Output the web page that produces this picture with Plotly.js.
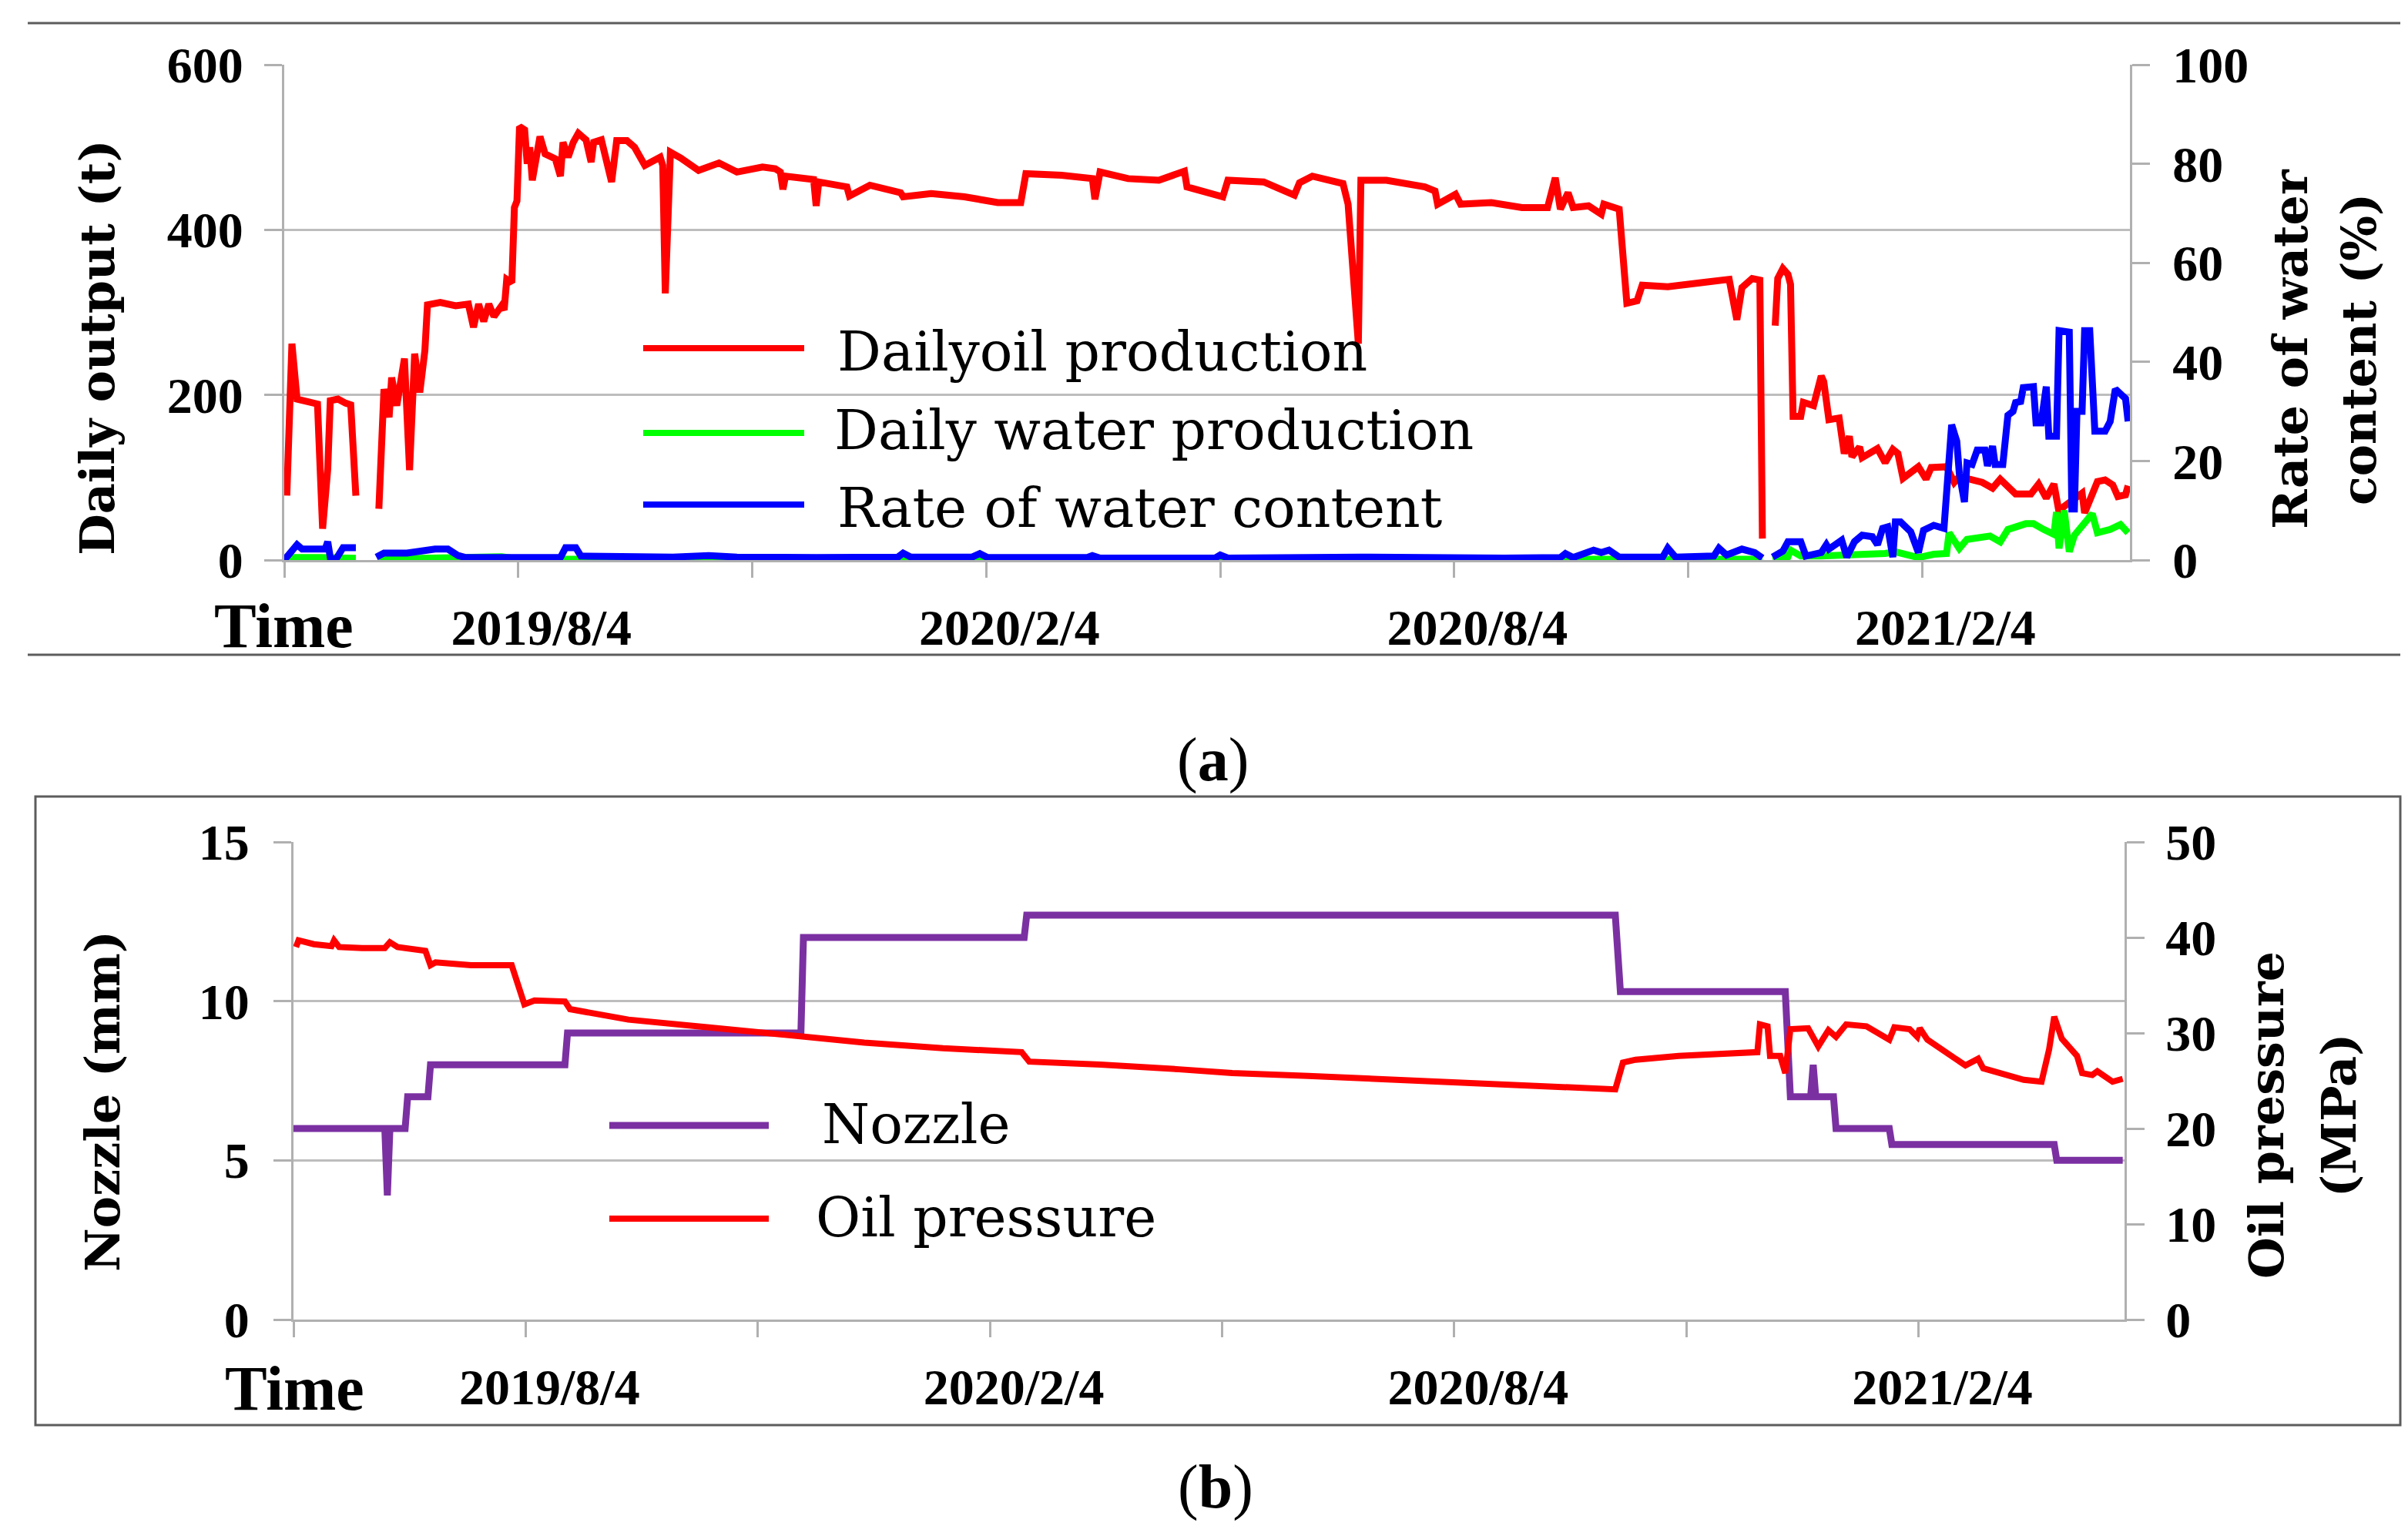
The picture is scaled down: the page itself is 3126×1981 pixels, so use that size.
<!DOCTYPE html>
<html>
<head>
<meta charset="utf-8">
<script src="https://cdn.plot.ly/plotly-3.0.1.min.js"></script>
<style>html,body{margin:0;padding:0;background:#fff}</style>
</head>
<body>
<div id="chart" style="width:3126px;height:1981px"></div>
<script>
// ---------------- DATA ----------------
const tickDates = ['2019-04-26','2019-07-26 12:00','2019-10-26','2020-01-25 12:00','2020-04-26','2020-07-26 12:00','2020-10-26','2021-01-25 12:00'];
const tickLabels = ['', '2019/8/4', '', '2020/2/4', '', '2020/8/4', '', '2021/2/4'];
const xRange = ['2019-04-26', '2021-04-16 17:00'];

const oilDates = ['2019-04-27','2019-04-29','2019-05-01','2019-05-05','2019-05-09','2019-05-11','2019-05-13','2019-05-14','2019-05-17','2019-05-20','2019-05-22','2019-05-24','2019-05-28','2019-06-02','2019-06-04','2019-06-06','2019-06-07','2019-06-09','2019-06-12','2019-06-14','2019-06-16','2019-06-18','2019-06-20','2019-06-21','2019-06-26','2019-07-02','2019-07-07','2019-07-09','2019-07-11','2019-07-13','2019-07-15','2019-07-17','2019-07-20','2019-07-21','2019-07-22','2019-07-24','2019-07-25','2019-07-26','2019-07-27','2019-07-29','2019-07-30','2019-07-31','2019-08-01','2019-08-04','2019-08-06','2019-08-10','2019-08-12','2019-08-13','2019-08-15','2019-08-17','2019-08-19','2019-08-22','2019-08-24','2019-08-25','2019-08-28','2019-09-01','2019-09-03','2019-09-07','2019-09-10','2019-09-14','2019-09-20','2019-09-21','2019-09-22','2019-09-24','2019-09-28','2019-10-05','2019-10-13','2019-10-20','2019-10-30','2019-11-04','2019-11-06','2019-11-07','2019-11-08','2019-11-19','2019-11-20','2019-11-21','2019-12-02','2019-12-03','2019-12-11','2019-12-23','2019-12-24','2020-01-04','2020-01-17','2020-01-30','2020-02-08','2020-02-10','2020-02-24','2020-03-07','2020-03-08','2020-03-10','2020-03-21','2020-04-02','2020-04-12','2020-04-13','2020-04-27','2020-04-29','2020-05-13','2020-05-25','2020-05-27','2020-06-01','2020-06-13','2020-06-15','2020-06-19','2020-06-20','2020-06-30','2020-07-15','2020-07-19','2020-07-20','2020-07-27','2020-07-29','2020-08-10','2020-08-22','2020-09-01','2020-09-04','2020-09-06','2020-09-09','2020-09-11','2020-09-17','2020-09-22','2020-09-23','2020-09-29','2020-10-02','2020-10-06','2020-10-08','2020-10-18','2020-10-31','2020-11-11','2020-11-14','2020-11-16','2020-11-20','2020-11-23','2020-11-24','2020-11-26','2020-11-29','2020-11-30','2020-12-02','2020-12-04','2020-12-05','2020-12-06','2020-12-09','2020-12-10','2020-12-14','2020-12-17','2020-12-18','2020-12-20','2020-12-24','2020-12-26','2020-12-28','2020-12-29','2021-01-01','2021-01-02','2021-01-08','2021-01-11','2021-01-14','2021-01-16','2021-01-18','2021-01-24','2021-01-27','2021-01-29','2021-02-04','2021-02-07','2021-02-09','2021-02-14','2021-02-18','2021-02-22','2021-02-25','2021-03-03','2021-03-09','2021-03-12','2021-03-15','2021-03-18','2021-03-20','2021-03-22','2021-03-29','2021-03-30','2021-04-04','2021-04-07','2021-04-10','2021-04-12','2021-04-15','2021-04-16'];
const oilValues = [78,262,195,192,189,38,110,193,195,190,188,78,null,62,207,173,221,187,244,109,250,203,254,309,312,308,310,282,310,289,310,295,308,303,340,336,427,435,525,521,480,500,460,513,492,486,465,506,488,506,517,509,482,506,509,458,508,508,500,478,488,478,323,494,487,472,481,470,476,474,470,449,465,461,429,458,452,441,454,445,440,444,440,433,433,468,466,462,437,470,462,460,471,452,440,460,458,442,457,465,456,431,262,460,460,452,447,431,443,431,433,427,427,463,425,445,427,429,419,431,425,311,314,333,331,336,340,291,330,341,339,26,null,284,341,353,346,334,174,174,191,187,223,216,170,172,129,150,125,137,124,135,118,134,129,99,113,98,112,113,94,101,98,94,87,98,80,80,92,75,92,58,65,81,57,95,97,91,77,79,90];

const waterDates = ['2019-04-27','2019-04-29','2019-05-10','2019-05-22','2019-05-24','2019-05-28','2019-06-02','2019-06-15','2019-07-05','2019-07-20','2019-07-27','2019-09-01','2019-12-01','2020-03-01','2020-06-01','2020-09-01','2020-10-01','2020-11-01','2020-11-16','2020-11-24','2020-11-26','2020-11-28','2020-12-04','2020-12-05','2020-12-09','2020-12-17','2020-12-25','2021-01-02','2021-01-11','2021-01-15','2021-01-21','2021-01-24','2021-01-30','2021-02-04','2021-02-05','2021-02-09','2021-02-12','2021-02-21','2021-02-25','2021-02-28','2021-03-07','2021-03-10','2021-03-14','2021-03-18','2021-03-19','2021-03-20','2021-03-22','2021-03-24','2021-03-26','2021-03-30','2021-04-02','2021-04-04','2021-04-09','2021-04-13','2021-04-16'];
const waterValues = [0,3,3,3,2,null,1,2,3,4,1,1,1,1,1,1,1,1,2,1,null,1,4,12,5,5,6,6,8,10,4,3,7,8,33,14,25,29,22,37,44,44,37,31,58,14,60,10,30,46,56,33,37,43,33];

const rateDates = ['2019-04-26','2019-04-29','2019-05-01','2019-05-03','2019-05-12','2019-05-13','2019-05-14','2019-05-16','2019-05-19','2019-05-24','2019-05-28','2019-06-01','2019-06-04','2019-06-13','2019-06-24','2019-06-29','2019-07-03','2019-07-06','2019-08-12','2019-08-14','2019-08-18','2019-08-20','2019-09-25','2019-10-09','2019-10-20','2019-11-20','2019-12-22','2019-12-24','2019-12-27','2020-01-20','2020-01-23','2020-01-26','2020-03-05','2020-03-07','2020-03-10','2020-04-24','2020-04-26','2020-04-29','2020-06-20','2020-08-15','2020-09-06','2020-09-08','2020-09-11','2020-09-19','2020-09-22','2020-09-25','2020-09-29','2020-10-16','2020-10-18','2020-10-21','2020-11-05','2020-11-07','2020-11-10','2020-11-16','2020-11-21','2020-11-24','2020-11-26','2020-11-28','2020-12-02','2020-12-04','2020-12-09','2020-12-11','2020-12-17','2020-12-19','2020-12-20','2020-12-25','2020-12-27','2020-12-30','2021-01-02','2021-01-06','2021-01-08','2021-01-10','2021-01-12','2021-01-14','2021-01-15','2021-01-17','2021-01-21','2021-01-24','2021-01-26','2021-01-30','2021-02-03','2021-02-06','2021-02-08','2021-02-09','2021-02-11','2021-02-12','2021-02-14','2021-02-16','2021-02-19','2021-02-20','2021-02-22','2021-02-23','2021-02-26','2021-02-28','2021-03-02','2021-03-03','2021-03-05','2021-03-06','2021-03-10','2021-03-11','2021-03-13','2021-03-15','2021-03-16','2021-03-19','2021-03-20','2021-03-24','2021-03-25','2021-03-26','2021-03-27','2021-03-29','2021-03-30','2021-04-01','2021-04-03','2021-04-07','2021-04-09','2021-04-11','2021-04-15','2021-04-16'];
const rateValues = [0,1.7,3.1,2.2,2.2,3.7,0.5,0,2.5,2.5,null,0.6,1.4,1.4,2.2,2.2,0.9,0.5,0.5,2.5,2.5,0.8,0.6,0.9,0.6,0.5,0.6,1.4,0.6,0.6,1.3,0.5,0.5,0.9,0.4,0.4,1.0,0.4,0.6,0.4,0.5,1.3,0.5,2.0,1.5,2.0,0.6,0.6,2.4,0.6,0.8,2.4,1.0,2.2,1.5,0.4,null,0.6,1.8,3.7,3.7,0.8,1.5,3.1,2.2,4.0,0.6,3.7,5.0,4.7,3.1,6.4,6.7,0.6,7.7,7.7,5.7,1.5,6.0,7.0,6.4,27.3,24,17.5,11.7,19.6,19.3,22.2,22.2,19.0,23,19.3,19.3,29.2,30,31.8,32,34.8,35,27.7,27.7,35,25,25,46.3,46,10.3,10.3,30,30,46.3,46.3,26,26,28,34.5,32.6,28];

const nozzleDates = ['2019-04-26','2019-06-01','2019-06-02','2019-06-03','2019-06-09','2019-06-10','2019-06-18','2019-06-19','2019-08-11','2019-08-12','2019-11-12','2019-11-13','2020-02-08','2020-02-09','2020-09-28','2020-09-30','2020-12-04','2020-12-06','2020-12-14','2020-12-15','2020-12-16','2020-12-23','2020-12-24','2021-01-14','2021-01-15','2021-03-20','2021-03-21','2021-04-16'];
const nozzleValues = [6.0,6.0,3.9,6.0,6.0,7.0,7.0,8.0,8.0,9.0,9.0,12.0,12.0,12.7,12.7,10.3,10.3,7.0,7.0,8.0,7.0,7.0,6.0,6.0,5.5,5.5,5.0,5.0];

const pressureDates = ['2019-04-27','2019-04-28','2019-05-04','2019-05-11','2019-05-12','2019-05-14','2019-05-23','2019-06-01','2019-06-03','2019-06-06','2019-06-17','2019-06-19','2019-06-21','2019-07-05','2019-07-21','2019-07-25','2019-07-26','2019-07-30','2019-08-11','2019-08-13','2019-09-05','2019-10-06','2019-11-06','2019-12-07','2020-01-07','2020-02-07','2020-02-10','2020-03-09','2020-04-09','2020-04-30','2020-05-30','2020-07-11','2020-08-21','2020-09-28','2020-10-01','2020-10-06','2020-10-23','2020-11-12','2020-11-23','2020-11-24','2020-11-27','2020-11-28','2020-12-02','2020-12-04','2020-12-06','2020-12-13','2020-12-17','2020-12-21','2020-12-24','2020-12-28','2021-01-05','2021-01-14','2021-01-16','2021-01-22','2021-01-25','2021-01-26','2021-01-29','2021-02-13','2021-02-18','2021-02-20','2021-03-02','2021-03-08','2021-03-15','2021-03-18','2021-03-20','2021-03-23','2021-03-29','2021-03-31','2021-04-04','2021-04-06','2021-04-12','2021-04-16'];
const pressureValues = [39.0,39.7,39.3,39.1,39.7,39.0,38.9,38.9,39.5,39.0,38.6,37.1,37.4,37.1,37.1,33.4,33.0,33.4,33.3,32.5,31.4,30.6,29.8,29.0,28.4,28.0,27.0,26.7,26.2,25.8,25.5,25.0,24.6,24.1,26.9,27.2,27.6,27.8,28.0,30.9,30.7,27.6,27.6,25.8,30.4,30.5,28.6,30.3,29.6,30.9,30.7,29.3,30.6,30.4,29.6,30.5,29.3,26.6,27.3,26.3,25.6,25.1,24.9,28.3,31.7,29.4,27.6,25.8,25.6,26.0,24.9,25.2];

const ticksA_left = [0, 200, 400, 600];
const ticksA_right = [0, 20, 40, 60, 80, 100];
const ticksB_left = [0, 5, 10, 15];
const ticksB_right = [0, 10, 20, 30, 40, 50];

// ---------------- LAYOUT HELPERS ----------------
const W = 3126, H = 1981;
const px = v => v / W;
const py = v => 1 - v / H;
const GRID = '#bdbdbd', AXIS = '#b0b0b0', FRAME = '#5c5c5c';
const tickFont = {family: 'Liberation Serif, serif', size: 66, color: '#000', weight: 'bold'};
const titleFont = {family: 'DejaVu Serif, serif', size: 62, color: '#000', weight: 'bold'};
const legFont = {family: 'DejaVu Serif, serif', size: 71, color: '#000'};

function xAxis(domain, anchor, shift) {
  return {type: 'date', domain, anchor, range: xRange, tickmode: 'array', tickvals: tickDates, ticktext: tickLabels,
    ticks: 'outside', ticklen: 20, tickwidth: 3, tickcolor: AXIS, showline: true, linecolor: AXIS, linewidth: 3,
    showgrid: false, zeroline: false, tickfont: tickFont, ticklabelshift: shift, ticklabelstandoff: 8};
}
function yAxis(domain, anchor, range, vals, side, standoff, grid, overlay) {
  const a = {domain, anchor, range, tickmode: 'array', tickvals: vals, ticks: 'outside', ticklen: 23, tickwidth: 3,
    tickcolor: AXIS, showline: true, linecolor: AXIS, linewidth: 3, showgrid: grid, gridcolor: GRID, gridwidth: 3,
    zeroline: false, tickfont: tickFont, side, ticklabelstandoff: standoff};
  if (overlay) a.overlaying = overlay;
  return a;
}

const domA = [1 - 727 / H, 1 - 84 / H];
const domB = [1 - 1713 / H, 1 - 1093 / H];

const traces = [
  {x: oilDates, y: oilValues, xaxis: 'x', yaxis: 'y', mode: 'lines', line: {color: '#ff0000', width: 9}, connectgaps: false, name: 'Dailyoil production'},
  {x: waterDates, y: waterValues, xaxis: 'x', yaxis: 'y', mode: 'lines', line: {color: '#00ff00', width: 9}, connectgaps: false, name: 'Daily water production'},
  {x: rateDates, y: rateValues, xaxis: 'x', yaxis: 'y2', mode: 'lines', line: {color: '#0000ff', width: 9}, connectgaps: false, name: 'Rate of water content'},
  {x: nozzleDates, y: nozzleValues, xaxis: 'x2', yaxis: 'y3', mode: 'lines', line: {color: '#7b30a2', width: 9}, name: 'Nozzle'},
  {x: pressureDates, y: pressureValues, xaxis: 'x2', yaxis: 'y4', mode: 'lines', line: {color: '#ff0000', width: 8}, name: 'Oil pressure'}
];

function ann(text, x, y, font, opts) {
  return Object.assign({text, x: px(x), y: py(y), xref: 'paper', yref: 'paper', showarrow: false, font,
    xanchor: 'center', yanchor: 'middle', borderpad: 0}, opts || {});
}
function hline(x0, x1, y, color, width) {
  return {type: 'line', xref: 'paper', yref: 'paper', x0: px(x0), x1: px(x1), y0: py(y), y1: py(y), line: {color, width}};
}

const timeFont = {family: 'Liberation Serif, serif', size: 82, color: '#000', weight: 'bold'};
const capFont = {family: 'Liberation Serif, serif', size: 80, color: '#000'};

const annotations = [
  ann('Daily output (t)', 127, 451, titleFont, {textangle: -90}),
  ann('Rate of water', 2974, 453, titleFont, {textangle: -90}),
  ann('content (%)', 3062, 454, titleFont, {textangle: -90}),
  ann('Nozzle (mm)', 133, 1430, titleFont, {textangle: -90}),
  ann('Oil pressure', 2942, 1448, titleFont, {textangle: -90}),
  ann('(MPa)', 3036, 1448, titleFont, {textangle: -90}),
  ann('Time', 368, 812, timeFont),
  ann('Time', 382, 1802, timeFont),
  ann('Dailyoil production', 1086, 457, legFont, {xanchor: 'left'}),
  ann('Daily water production', 1082, 558, legFont, {xanchor: 'left'}),
  ann('Rate of water content', 1086, 659, legFont, {xanchor: 'left'}),
  ann('Nozzle', 1066, 1459, legFont, {xanchor: 'left'}),
  ann('Oil pressure', 1058, 1580, legFont, {xanchor: 'left'}),
  ann('(<b>a</b>)', 1574, 986, capFont),
  ann('(<b>b</b>)', 1578, 1930, capFont)
];

const shapes = [
  hline(36, 3116, 30, FRAME, 3),
  hline(36, 3116, 850, FRAME, 3),
  {type: 'rect', xref: 'paper', yref: 'paper', x0: px(46), x1: px(3116), y0: py(1850), y1: py(1034), line: {color: FRAME, width: 3}},
  hline(835, 1044, 452, '#ff0000', 8),
  hline(835, 1044, 562, '#00ff00', 8),
  hline(835, 1044, 655, '#0000ff', 8),
  hline(791, 998, 1461, '#7b30a2', 9),
  hline(791, 998, 1582, '#ff0000', 8)
];

const layout = {
  width: W, height: H, margin: {l: 0, r: 0, t: 0, b: 0}, paper_bgcolor: '#fff', plot_bgcolor: 'rgba(0,0,0,0)',
  showlegend: false, hovermode: false,
  xaxis: xAxis([369 / W, 2765 / W], 'y', 30),
  yaxis: yAxis(domA, 'x', [0, 600], ticksA_left, 'left', 14, true),
  yaxis2: yAxis(domA, 'x', [0, 100], ticksA_right, 'right', 16, false, 'y'),
  xaxis2: xAxis([381 / W, 2758 / W], 'y3', 31),
  yaxis3: yAxis(domB, 'x2', [0, 15], ticksB_left, 'left', 18, true),
  yaxis4: yAxis(domB, 'x2', [0, 50], ticksB_right, 'right', 14, false, 'y3'),
  annotations, shapes
};

Plotly.newPlot('chart', traces, layout, {staticPlot: true, displayModeBar: false});
</script>
</body>
</html>
